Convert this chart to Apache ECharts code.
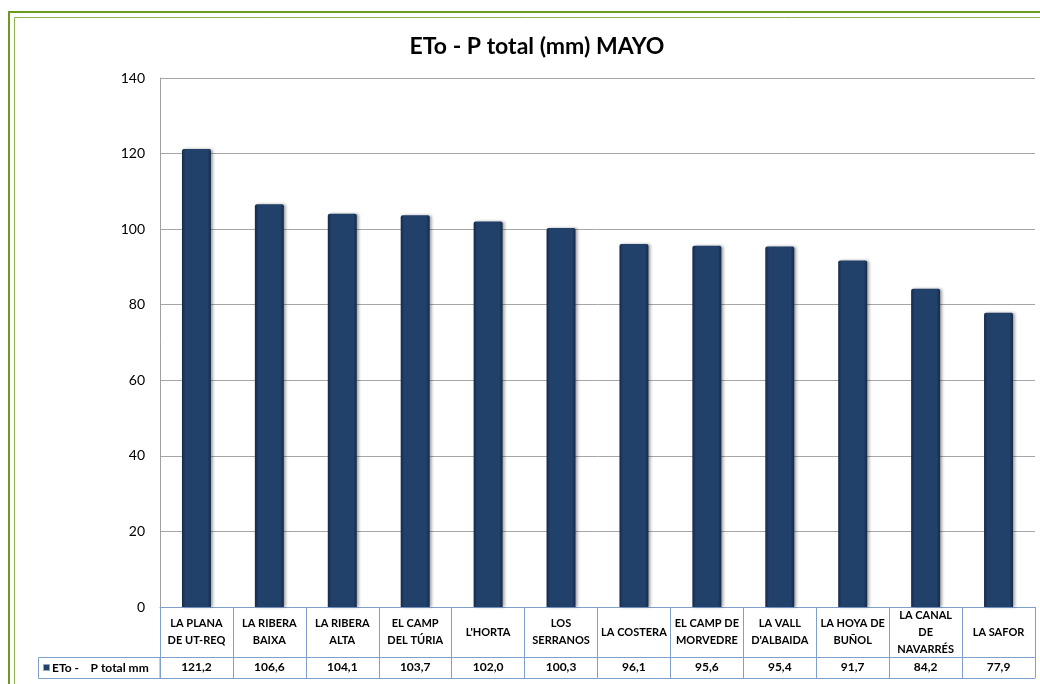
<!DOCTYPE html>
<html>
<head>
<meta charset="utf-8">
<script src="https://cdn.jsdelivr.net/npm/echarts@6/dist/echarts.min.js"></script>
<style>html,body{margin:0;padding:0;background:#fff}#c{width:1040px;height:684px}</style>
</head>
<body>
<div id="c"></div>
<script>
const titleText = 'ETo - P total (mm) MAYO';
const seriesName = 'ETo -    P total mm';
const categories = ['LA PLANA\nDE UT-REQ','LA RIBERA\nBAIXA','LA RIBERA\nALTA','EL CAMP\nDEL TÚRIA',"L'HORTA",'LOS\nSERRANOS','LA COSTERA','EL CAMP DE\nMORVEDRE','LA VALL\nD\'ALBAIDA','LA HOYA DE\nBUÑOL','LA CANAL\nDE\nNAVARRÉS','LA SAFOR'];
const values = [121.2,106.6,104.1,103.7,102.0,100.3,96.1,95.6,95.4,91.7,84.2,77.9];
const yTicks = {min:0, max:140, interval:20};

const FONT = 'Lato';
const TABLE = '#7f9fcf';
const chart = echarts.init(document.getElementById('c'), null, {renderer:'canvas'});
const fmt = v => v.toFixed(1).replace('.', ',');

chart.setOption({
  animation:false,
  backgroundColor:'#fff',
  title:{text:titleText,left:532,textAlign:'center',top:30,
    textStyle:{fontFamily:FONT,fontSize:23,fontWeight:'bold',color:'#000'}},
  grid:{left:160,right:5,top:78,bottom:77},
  xAxis:[
    {type:'category',data:categories,position:'bottom',
      axisLine:{show:true,lineStyle:{color:TABLE,width:1}},
      axisTick:{show:true,alignWithLabel:false,length:71,lineStyle:{color:TABLE,width:1}},
      axisLabel:{interval:0,margin:25,fontFamily:FONT,fontSize:11,fontWeight:'bold',color:'#000',lineHeight:17,
        verticalAlign:'middle'}
    },
    {type:'category',data:categories,position:'bottom',offset:50,
      axisLine:{show:true,lineStyle:{color:TABLE,width:1}},
      axisTick:{show:false},
      axisLabel:{interval:0,margin:4,fontFamily:FONT,fontSize:12,fontWeight:'bold',color:'#000',
        formatter:(v,i)=>fmt(values[i])}
    },
    {type:'category',data:categories,position:'bottom',offset:71,
      axisLine:{show:true,lineStyle:{color:TABLE,width:1}},
      axisTick:{show:false},axisLabel:{show:false}
    }
  ],
  yAxis:{type:'value',min:yTicks.min,max:yTicks.max,interval:yTicks.interval,
    axisLine:{show:true,lineStyle:{color:'#a0a0a0'}},
    axisTick:{show:false},
    axisLabel:{margin:15,fontFamily:FONT,fontSize:14,color:'#000'},
    splitLine:{lineStyle:{color:'#a6a6a6',width:1}}
  },
  series:[{
    name:seriesName,type:'bar',data:values,barWidth:29,xAxisIndex:0,
    itemStyle:{
      color:new echarts.graphic.LinearGradient(0,0,1,0,[
        {offset:0,color:'#162a49'},{offset:0.12,color:'#21406a'},
        {offset:0.88,color:'#21406a'},{offset:1,color:'#162a49'}]),
      borderRadius:[2,2,0,0],
      shadowColor:'rgba(0,0,0,0.35)',shadowBlur:3,shadowOffsetX:2,shadowOffsetY:0
    }
  }],
  graphic:[
    {type:'rect',shape:{x:9,y:12,width:1100,height:1000},style:{fill:'none',stroke:'#6b9a1e',lineWidth:2},silent:true},
    {type:'rect',shape:{x:14.5,y:17.5,width:1100,height:1000},style:{fill:'none',stroke:'#8fb04a',lineWidth:1},silent:true},
    {type:'rect',shape:{x:38.5,y:657.5,width:121.5,height:21},style:{fill:'none',stroke:TABLE,lineWidth:1},silent:true},
    {type:'rect',shape:{x:43.5,y:664.5,width:6,height:6},style:{fill:'#21406a',stroke:'#8ea4c8',lineWidth:1},silent:true},
    {type:'text',x:52,y:668,style:{text:seriesName,fontFamily:FONT,fontSize:12,fontWeight:'bold',fill:'#000',verticalAlign:'middle',whiteSpace:'pre'},silent:true}
  ]
});
</script>
</body>
</html>
